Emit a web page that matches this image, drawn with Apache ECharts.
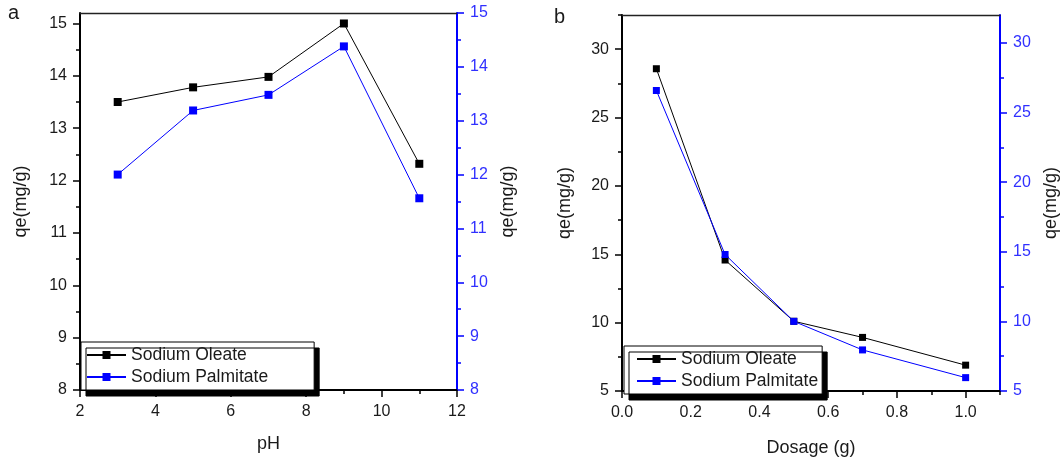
<!DOCTYPE html>
<html>
<head>
<meta charset="utf-8">
<script src="https://cdn.jsdelivr.net/npm/echarts@6/dist/echarts.min.js"></script>
<style>
  html, body { margin: 0; padding: 0; background: #fff; }
  #chart { width: 1064px; height: 459px; }
</style>
</head>
<body>
<div id="chart"></div>
<script>
// Panel a: adsorption capacity vs pH
const pH = [3, 5, 7, 9, 11];
const oleatePH = [13.5, 13.78, 13.98, 15.0, 12.32];
const palmitatePH = [12.0, 13.19, 13.48, 14.38, 11.56];

// Panel b: adsorption capacity vs dosage
const dosage = [0.1, 0.3, 0.5, 0.7, 1.0];
const oleateDose = [28.57, 14.58, 10.1, 8.92, 6.89];
const palmitateDose = [26.58, 14.8, 10.0, 7.95, 5.96];

// Tick positions
const pHTicks = [2, 4, 6, 8, 10, 12];
const pHMinor = [3, 5, 7, 9, 11];
const qePHTicks = [8, 9, 10, 11, 12, 13, 14, 15];
const qePHMinor = [8.5, 9.5, 10.5, 11.5, 12.5, 13.5, 14.5];
const dosageTicks = [0, 0.2, 0.4, 0.6, 0.8, 1.0];
const dosageMinor = [0.1, 0.3, 0.5, 0.7, 0.9, 1.1];
const qeDoseTicks = [5, 10, 15, 20, 25, 30];
const qeDoseMinorLeft = [7.5, 12.5, 17.5, 22.5, 27.5, 32.5];
const qeDoseMinorRight = [7.5, 12.5, 17.5, 22.5, 27.5];

const seriesNames = ['Sodium Oleate', 'Sodium Palmitate'];
const panelLetters = ['a', 'b'];
const xTitles = ['pH', 'Dosage (g)'];
const yTitle = 'qe(mg/g)';

const FONT = '"Liberation Sans", Arial, sans-serif';
const TEXT = '#1a1a1a';
const BLUE = '#0000ff';
const BLUE_TEXT = '#3030ff';

// Main x axis with labels and major ticks
function xMain(grid, min, max, ticks, name, gap, fmt) {
  return {
    type: 'value', gridIndex: grid, position: 'bottom', min: min, max: max,
    name: name, nameLocation: 'middle', nameGap: gap,
    nameTextStyle: { fontSize: 18, color: TEXT, fontFamily: FONT },
    axisLine: { show: true, onZero: false, lineStyle: { color: '#000', width: 2 } },
    axisTick: { show: true, length: 7, customValues: ticks, lineStyle: { color: '#000', width: 1.5 } },
    axisLabel: { show: true, customValues: ticks, margin: 14, fontSize: 16, color: TEXT, fontFamily: FONT, formatter: fmt },
    splitLine: { show: false }
  };
}
// Minor ticks only
function xMinor(grid, min, max, ticks) {
  return {
    type: 'value', gridIndex: grid, position: 'bottom', min: min, max: max,
    axisLine: { show: false, onZero: false },
    axisTick: { show: true, length: 4, customValues: ticks, lineStyle: { color: '#000', width: 1.5 } },
    axisLabel: { show: false }, splitLine: { show: false }
  };
}
// Frame line on top
function xTop(grid, min, max) {
  return {
    type: 'value', gridIndex: grid, position: 'top', min: min, max: max,
    axisLine: { show: true, onZero: false, lineStyle: { color: '#222', width: 1.3 } },
    axisTick: { show: false }, axisLabel: { show: false }, splitLine: { show: false }
  };
}
function yMain(grid, side, min, max, ticks, gap, color, textColor) {
  return {
    type: 'value', gridIndex: grid, position: side, min: min, max: max,
    name: yTitle, nameLocation: 'middle', nameGap: gap,
    nameTextStyle: { fontSize: 18, color: TEXT, fontFamily: FONT },
    axisLine: { show: true, onZero: false, lineStyle: { color: color, width: 2 } },
    axisTick: { show: true, length: 7, customValues: ticks, lineStyle: { color: color, width: 1.5 } },
    axisLabel: { show: true, customValues: ticks, margin: 13, fontSize: 16, color: textColor, fontFamily: FONT },
    splitLine: { show: false }
  };
}
function yMinor(grid, side, min, max, ticks, color) {
  return {
    type: 'value', gridIndex: grid, position: side, min: min, max: max,
    axisLine: { show: false, onZero: false },
    axisTick: { show: true, length: 4, customValues: ticks, lineStyle: { color: color, width: 1.5 } },
    axisLabel: { show: false }, splitLine: { show: false }
  };
}

const pairs = (xs, ys) => xs.map((x, i) => [x, ys[i]]);
const oneDecimal = v => v.toFixed(1);

function lineSeries(name, color, xi, yi, data, size) {
  return {
    type: 'line', name: name, xAxisIndex: xi, yAxisIndex: yi, data: data,
    symbol: 'rect', symbolSize: size, showSymbol: true,
    lineStyle: { color: color, width: 1 },
    itemStyle: { color: color },
    emphasis: { disabled: true }, animation: false
  };
}

function legendBox(left, top, padding) {
  return {
    data: seriesNames, orient: 'vertical', left: left, top: top,
    itemWidth: 39, itemHeight: 10, itemGap: 4, padding: padding,
    backgroundColor: '#fff', borderColor: '#000', borderWidth: 1,
    shadowColor: '#000', shadowOffsetX: 5, shadowOffsetY: 6, shadowBlur: 0,
    textStyle: { fontSize: 17.5, color: TEXT, fontFamily: FONT },
    selectedMode: false
  };
}

const chart = echarts.init(document.getElementById('chart'), null, { renderer: 'canvas' });
chart.setOption({
  backgroundColor: '#fff',
  animation: false,
  title: [
    { text: panelLetters[0], left: 8, top: 3, padding: 0, textStyle: { fontSize: 20, fontWeight: 'normal', color: TEXT, fontFamily: FONT } },
    { text: panelLetters[1], left: 554, top: 7, padding: 0, textStyle: { fontSize: 20, fontWeight: 'normal', color: TEXT, fontFamily: FONT } }
  ],
  grid: [
    { left: 80, right: 607, top: 13, bottom: 69, outerBoundsMode: 'none', containLabel: false },
    { left: 622, right: 64, top: 15, bottom: 68, outerBoundsMode: 'none', containLabel: false }
  ],
  legend: [
    legendBox(81, 342, [4, 46, 4, 5]),
    legendBox(624, 346, [4, 4, 4, 12])
  ],
  xAxis: [
    xMain(0, 2, 12, pHTicks, xTitles[0], 45),
    xMinor(0, 2, 12, pHMinor),
    xTop(0, 2, 12),
    xMain(1, 0, 1.1, dosageTicks, xTitles[1], 48, oneDecimal),
    xMinor(1, 0, 1.1, dosageMinor),
    xTop(1, 0, 1.1)
  ],
  yAxis: [
    yMain(0, 'left', 8, 15.2, qePHTicks, 50, '#000', TEXT),
    yMinor(0, 'left', 8, 15.2, qePHMinor, '#000'),
    yMain(0, 'right', 8, 15, qePHTicks, 42, BLUE, BLUE_TEXT),
    yMinor(0, 'right', 8, 15, qePHMinor, BLUE),
    yMain(1, 'left', 5, 32.5, qeDoseTicks, 48, '#000', TEXT),
    yMinor(1, 'left', 5, 32.5, qeDoseMinorLeft, '#000'),
    yMain(1, 'right', 5, 32, qeDoseTicks, 42, BLUE, BLUE_TEXT),
    yMinor(1, 'right', 5, 32, qeDoseMinorRight, BLUE)
  ],
  series: [
    lineSeries(seriesNames[0], '#000', 0, 0, pairs(pH, oleatePH), 8),
    lineSeries(seriesNames[1], BLUE, 0, 2, pairs(pH, palmitatePH), 8),
    lineSeries(seriesNames[0], '#000', 3, 4, pairs(dosage, oleateDose), 7),
    lineSeries(seriesNames[1], BLUE, 3, 6, pairs(dosage, palmitateDose), 7)
  ]
});
</script>
</body>
</html>
